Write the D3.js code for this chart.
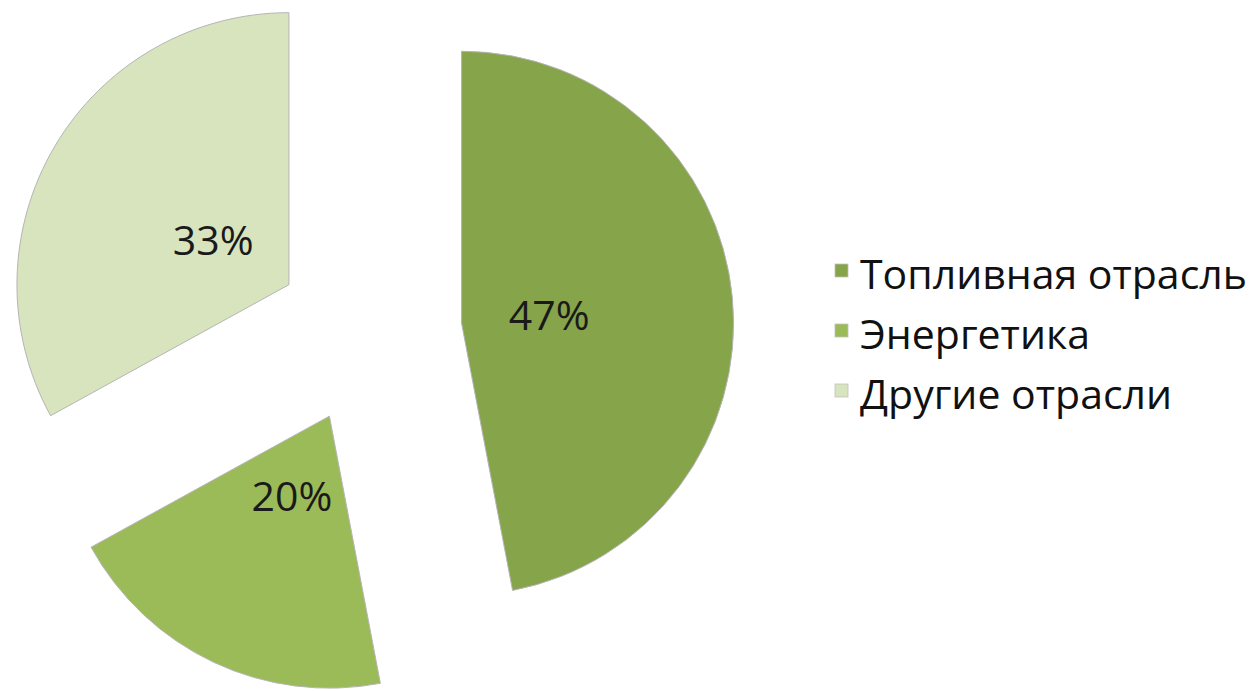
<!DOCTYPE html>
<html>
<head>
<meta charset="utf-8">
<script src="https://cdn.jsdelivr.net/npm/d3@7"></script>
<style>
  body { margin: 0; background: #fff; }
  text { font-family: "Open Sans", sans-serif; }
</style>
</head>
<body>
<div id="chart"></div>
<script>
// data
var categories = ["Топливная отрасль", "Энергетика", "Другие отрасли"];
var values = [47, 20, 33];
var colors = ["#86a44a", "#9bbb59", "#d7e4bd"];

var width = 1254,
    height = 691;

var cx = 369, cy = 332,   // pie centre
    radius = 272,
    explode = 93;

var svg = d3.select("#chart").append("svg")
    .attr("width", width)
    .attr("height", height);

var pie = d3.pie().sort(null).value(function(d) { return d; });
var arcs = pie(values);

var arc = d3.arc().innerRadius(0).outerRadius(radius);
var labelArc = d3.arc().innerRadius(88).outerRadius(88);

function offset(d) {
  var a = (d.startAngle + d.endAngle) / 2;
  return [Math.sin(a) * explode, -Math.cos(a) * explode];
}

var g = svg.append("g")
    .attr("transform", "translate(" + cx + "," + cy + ")");

var slice = g.selectAll(".slice")
    .data(arcs)
  .enter().append("g")
    .attr("class", "slice")
    .attr("transform", function(d) {
      var o = offset(d);
      return "translate(" + o[0] + "," + o[1] + ")";
    });

slice.append("path")
    .attr("d", arc)
    .style("fill", function(d, i) { return colors[i]; })
    .style("stroke", "#b5b5b5")
    .style("stroke-width", 1);

slice.append("text")
    .attr("transform", function(d) {
      var c = labelArc.centroid(d);
      return "translate(" + c[0] + "," + c[1] + ")";
    })
    .attr("text-anchor", "middle")
    .attr("dy", "0.36em")
    .style("font-size", "41px")
    .style("fill", "#1a1a1a")
    .text(function(d) { return d.data + "%"; });

// legend
var legend = svg.append("g")
    .attr("transform", "translate(835,0)");

var row = legend.selectAll(".row")
    .data(categories)
  .enter().append("g")
    .attr("class", "row")
    .attr("transform", function(d, i) { return "translate(0," + (270.5 + i * 60) + ")"; });

row.append("rect")
    .attr("x", 0)
    .attr("y", -6.5)
    .attr("width", 13)
    .attr("height", 13)
    .style("fill", function(d, i) { return colors[i]; })
    .style("stroke", "#c0c0c0")
    .style("stroke-width", 0.8);

row.append("text")
    .attr("x", 25)
    .attr("y", 18)
    .style("font-size", "41px")
    .style("fill", "#111")
    .text(function(d) { return d; });
</script>
</body>
</html>
